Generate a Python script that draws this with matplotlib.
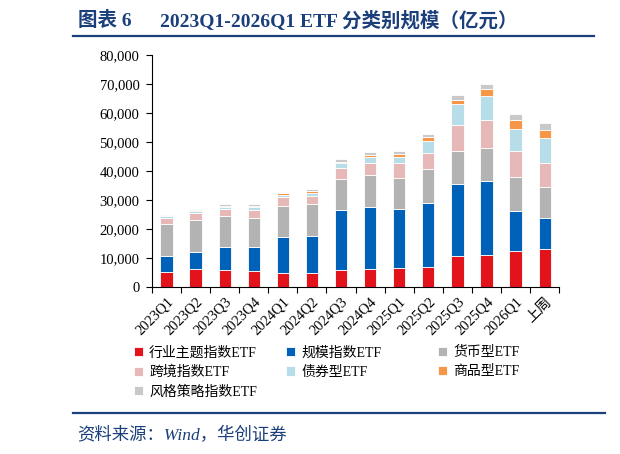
import numpy as np
import matplotlib.pyplot as plt
from matplotlib.lines import Line2D

plt.rcParams['font.family'] = ['Liberation Serif', 'Noto Sans CJK SC']

categories = ['2023Q1', '2023Q2', '2023Q3', '2023Q4', '2024Q1', '2024Q2', '2024Q3',
              '2024Q4', '2025Q1', '2025Q2', '2025Q3', '2025Q4', '2026Q1', '上周']

# 亿元, stacked bottom -> top
industry = [5300, 6100, 5900, 5500, 4900, 4900, 5900, 6100, 6400, 6800, 10500, 10900, 12500, 13000]
scale = [5500, 5900, 7700, 8400, 12200, 12500, 20800, 21600, 20500, 22200, 25000, 25700, 13800, 10800]
money = [10800, 11200, 10800, 10000, 10900, 11200, 10400, 11000, 10800, 11500, 11500, 11400, 11600, 10800]
cross = [2300, 2400, 2600, 2800, 2900, 2900, 4000, 4200, 5100, 5800, 8900, 9400, 9000, 8200]
bond = [500, 600, 700, 900, 800, 1000, 1500, 1900, 2000, 3900, 7200, 8300, 7600, 8700]
commodity = [200, 200, 300, 400, 600, 600, 500, 700, 1100, 1400, 1400, 2600, 3100, 2600]
style = [300, 500, 600, 500, 600, 800, 900, 900, 1100, 1300, 1700, 1700, 2100, 2300]

series = [
    ('行业主题指数ETF', industry, '#E3131B'),
    ('规模指数ETF', scale, '#0061B9'),
    ('货币型ETF', money, '#B3B3B3'),
    ('跨境指数ETF', cross, '#E6B8B7'),
    ('债券型ETF', bond, '#B7DEE8'),
    ('商品型ETF', commodity, '#F79646'),
    ('风格策略指数ETF', style, '#C9C9C9'),
]

navy = '#1B3F7A'

fig = plt.figure(figsize=(6.2, 4.54), dpi=100)
ax = fig.add_axes([0.245, 0.368, 0.657, 0.511])

x = np.arange(len(categories))
bottom = np.zeros(len(categories))
handles = {}
for name, vals, color in series:
    bars = ax.bar(x, vals, 0.42, bottom=bottom, color=color, edgecolor='white',
                  linewidth=0.6, label=name)
    handles[name] = bars
    bottom += np.array(vals)

ax.set_xlim(-0.5, len(categories) - 0.5)
ax.set_ylim(0, 80000)
ax.set_yticks(np.arange(0, 80001, 10000))
ax.set_yticklabels([f'{v:,}' for v in range(0, 80001, 10000)], fontsize=10.5)
ax.set_xticks(x)
ax.set_xticklabels(categories, rotation=45, ha='right', rotation_mode='anchor', fontsize=10.5)
ax.set_xticks(np.arange(-0.5, len(categories), 1), minor=True)
ax.tick_params(axis='x', which='major', length=0, pad=6)
ax.tick_params(axis='x', which='minor', length=4, direction='out', width=0.8)
ax.tick_params(axis='y', length=4, width=0.8, pad=5)
for s in ['top', 'right']:
    ax.spines[s].set_visible(False)
ax.spines['left'].set_linewidth(0.8)
ax.spines['bottom'].set_linewidth(0.8)

# legend laid out in three fixed columns
columns = [['行业主题指数ETF', '跨境指数ETF', '风格策略指数ETF'],
           ['规模指数ETF', '债券型ETF'],
           ['货币型ETF', '商品型ETF']]
for col, x0 in zip(columns, [0.207, 0.452, 0.697]):
    fig.legend([handles[n] for n in col], col, loc='upper left',
               bbox_to_anchor=(x0, 0.25), frameon=False, fontsize=10,
               handlelength=0.65, handleheight=0.65, handletextpad=0.45,
               labelspacing=0.45, borderaxespad=0)

# title and rules
fig.text(0.126, 0.955, '图表 6', fontsize=14, fontweight='bold', color=navy, va='center')
fig.text(0.258, 0.955, '2023Q1-2026Q1 ETF 分类别规模（亿元）', fontsize=14,
         fontweight='bold', color=navy, va='center')
fig.add_artist(Line2D([0.118, 0.958], [0.921, 0.921], color=navy, linewidth=1.6))
fig.add_artist(Line2D([0.118, 0.975], [0.09, 0.09], color=navy, linewidth=1.6))
fig.text(0.124, 0.04, '资料来源：Wind，华创证券', fontsize=12.5, style='italic',
         color=navy, va='center')

fig.savefig('out.png', dpi=100)
